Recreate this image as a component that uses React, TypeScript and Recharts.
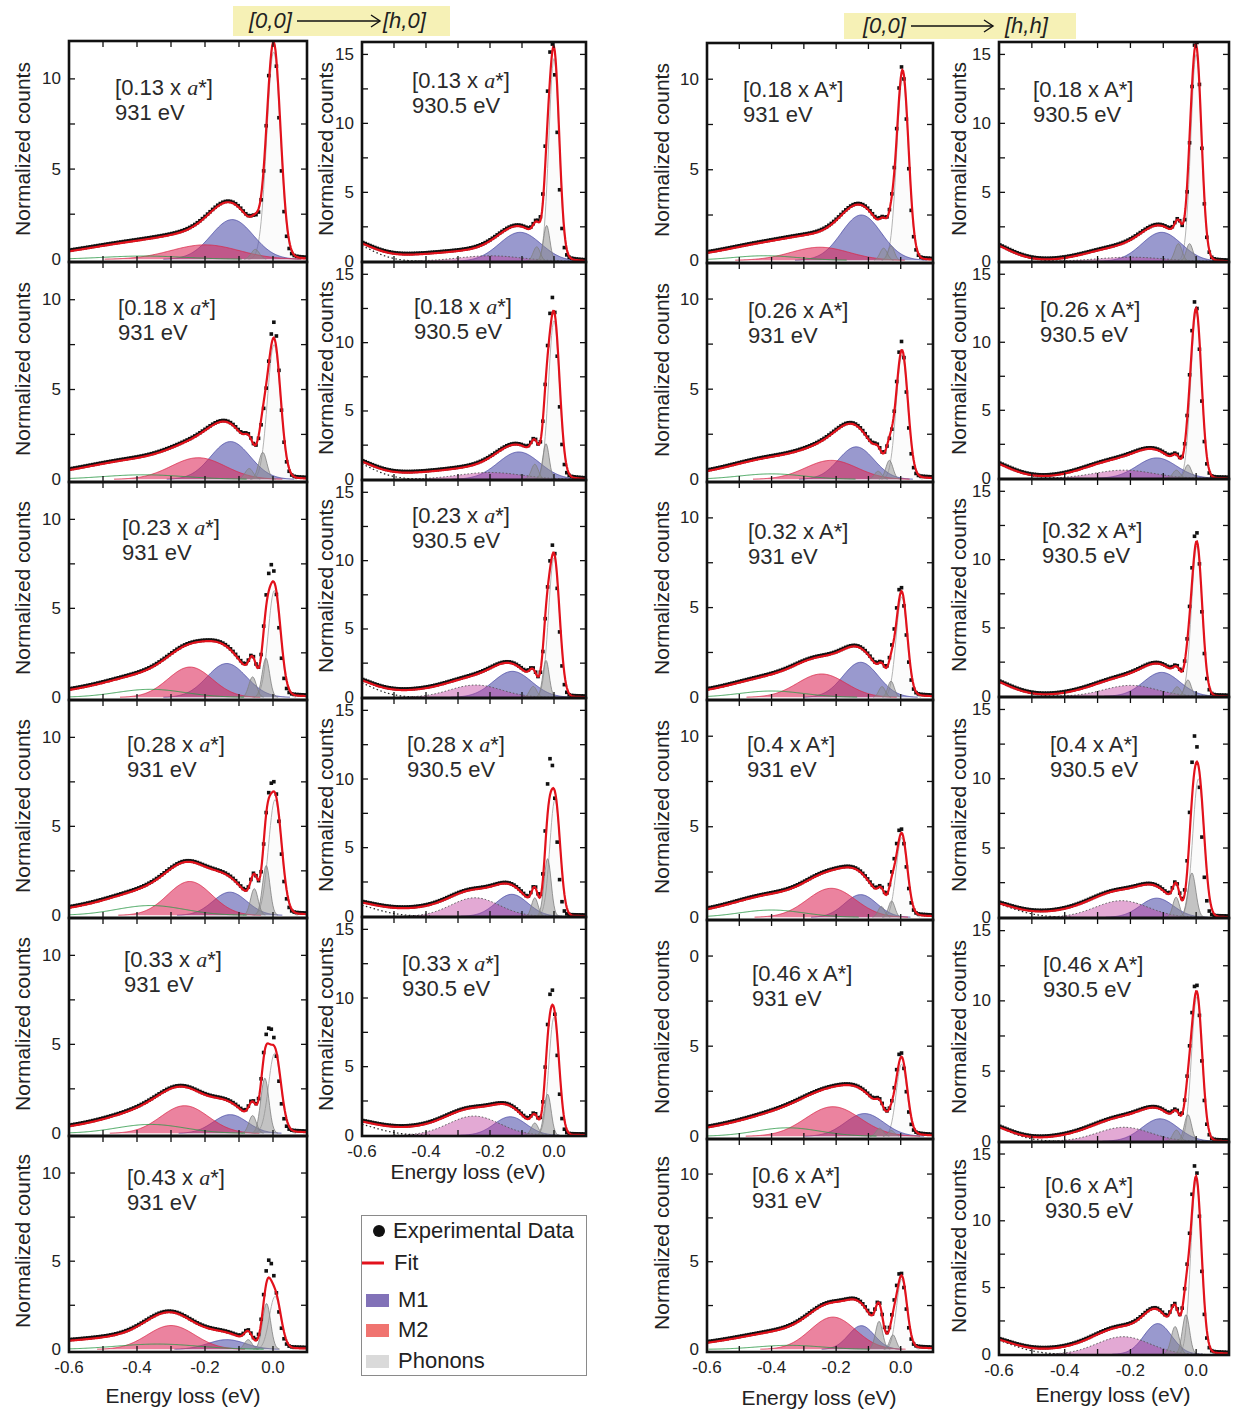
import { Area, ComposedChart, Line, XAxis, YAxis } from 'recharts';

type Peak = [number, number, number] | null; // [centre eV, height, sigma eV]

// panel order: [h,0] 931 eV (6 rows), [h,0] 930.5 eV (5), [h,h] 931 eV (6), [h,h] 930.5 eV (6)
const momenta = [
  '0.13', '0.18', '0.23', '0.28', '0.33', '0.43',
  '0.13', '0.18', '0.23', '0.28', '0.33',
  '0.18', '0.26', '0.32', '0.4', '0.46', '0.6',
  '0.18', '0.26', '0.32', '0.4', '0.46', '0.6',
];
const panelCol = [0, 0, 0, 0, 0, 0, 1, 1, 1, 1, 1, 2, 2, 2, 2, 2, 2, 3, 3, 3, 3, 3, 3];
const panelRow = [0, 1, 2, 3, 4, 5, 0, 1, 2, 3, 4, 0, 1, 2, 3, 4, 5, 0, 1, 2, 3, 4, 5];
const photonEnergy = ['931 eV', '930.5 eV', '931 eV', '930.5 eV'];

// fitted components
const elastic: Peak[] = [
  [0.002, 11.5, 0.02], [0.003, 7.5, 0.019], [0.004, 6.0, 0.018], [0.006, 6.5, 0.019], [0.005, 4.5, 0.018], [0.006, 3.0, 0.017],
  [0, 14.7, 0.016], [0, 11.6, 0.017], [0, 10.2, 0.017], [0.003, 8.5, 0.016], [0, 8.6, 0.016],
  [0.006, 10.1, 0.018], [0.004, 6.9, 0.018], [0.003, 5.6, 0.017], [0.003, 4.4, 0.017], [0.003, 4.0, 0.017], [0.003, 4.0, 0.016],
  [0, 15.0, 0.016], [0, 12.2, 0.016], [0.002, 11.0, 0.016], [0.007, 10.0, 0.017], [0.002, 10.3, 0.016], [0, 13.0, 0.016],
];
const measuredPeak: Peak[] = [
  [0, 11.9, 0.018], [0.003, 8.3, 0.017], [0, 6.6, 0.016], [0.004, 6.9, 0.017], [0, 4.9, 0.016], [0, 3.5, 0.016],
  [-0.005, 14.4, 0.015], [-0.003, 12.3, 0.015], [-0.002, 10.6, 0.015], [-0.005, 9.1, 0.014], [-0.004, 9.2, 0.014],
  [0.004, 10.2, 0.017], [0.002, 7.3, 0.016], [0, 5.8, 0.016], [0, 4.6, 0.016], [0, 4.2, 0.015], [0, 4.1, 0.015],
  [0, 15.4, 0.015], [-0.002, 12.7, 0.015], [0, 11.7, 0.015], [0, 10.8, 0.015], [0, 10.8, 0.015], [-0.002, 13.8, 0.015],
];
const phononA: Peak[] = [
  [-0.052, 0.55, 0.012], [-0.03, 1.5, 0.012], [-0.021, 2.2, 0.011], [-0.02, 2.8, 0.011], [-0.024, 3.1, 0.012], [-0.019, 2.6, 0.012],
  [-0.023, 2.6, 0.01], [-0.025, 2.6, 0.01], [-0.025, 2.7, 0.01], [-0.02, 4.2, 0.011], [-0.02, 3.0, 0.011],
  [-0.03, 0.8, 0.01], [-0.035, 1.05, 0.011], [-0.03, 0.9, 0.01], [-0.028, 0.9, 0.01], [-0.029, 0.32, 0.01], [-0.024, 0.83, 0.01],
  [-0.02, 1.28, 0.01], [-0.025, 1.0, 0.01], [-0.025, 1.2, 0.01], [-0.013, 3.2, 0.012], [-0.025, 1.9, 0.011], [-0.031, 2.97, 0.011],
];
const phononB: Peak[] = [
  null, [-0.07, 0.6, 0.012], [-0.06, 1.15, 0.011], [-0.055, 1.5, 0.011], [-0.06, 1.0, 0.011], [-0.073, 0.55, 0.011],
  [-0.054, 1.05, 0.011], [-0.06, 1.1, 0.011], [-0.065, 0.8, 0.011], [-0.06, 1.35, 0.01], [-0.06, 0.9, 0.011],
  [-0.053, 0.67, 0.011], [-0.07, 0.45, 0.011], [-0.058, 0.6, 0.01], [-0.06, 0.6, 0.01], [-0.065, 0.45, 0.011], [-0.067, 1.6, 0.011],
  [-0.054, 1.28, 0.011], [-0.06, 0.6, 0.011], [-0.058, 0.7, 0.011], [-0.061, 1.45, 0.01], [-0.06, 0.8, 0.011], [-0.064, 2.08, 0.012],
];
const m1: Peak[] = [
  [-0.12, 2.2, 0.062], [-0.125, 2.1, 0.058], [-0.136, 1.9, 0.058], [-0.127, 1.3, 0.05], [-0.126, 1.05, 0.05], [-0.136, 0.55, 0.055],
  [-0.106, 2.1, 0.065], [-0.11, 2.0, 0.065], [-0.13, 1.9, 0.06], [-0.132, 1.6, 0.05], [-0.137, 1.35, 0.05],
  [-0.122, 2.5, 0.062], [-0.138, 1.8, 0.055], [-0.124, 1.95, 0.055], [-0.124, 1.25, 0.05], [-0.112, 1.26, 0.06], [-0.122, 1.35, 0.04],
  [-0.105, 2.1, 0.06], [-0.12, 1.5, 0.06], [-0.105, 1.75, 0.055], [-0.12, 1.38, 0.05], [-0.11, 1.6, 0.055], [-0.117, 2.3, 0.042],
];
const m2: Peak[] = [
  [-0.2, 0.8, 0.1], [-0.22, 1.2, 0.08], [-0.244, 1.7, 0.065], [-0.245, 1.9, 0.065], [-0.26, 1.55, 0.07], [-0.3, 1.35, 0.07],
  [-0.2, 0.4, 0.1], [-0.2, 0.5, 0.1], [-0.245, 0.9, 0.08], [-0.247, 1.35, 0.075], [-0.25, 1.4, 0.08],
  [-0.25, 0.72, 0.09], [-0.215, 1.05, 0.08], [-0.245, 1.3, 0.075], [-0.215, 1.6, 0.075], [-0.21, 1.64, 0.085], [-0.21, 1.84, 0.07],
  [-0.2, 0.3, 0.1], [-0.22, 0.6, 0.09], [-0.2, 0.8, 0.08], [-0.227, 1.2, 0.08], [-0.22, 1.0, 0.08], [-0.222, 1.32, 0.08],
];
const greenLine: Peak[] = [
  [-0.38, 0.18, 0.12], [-0.38, 0.25, 0.12], [-0.36, 0.45, 0.1], [-0.36, 0.55, 0.1], [-0.36, 0.5, 0.1], [-0.34, 0.3, 0.12],
  null, null, null, null, null,
  [-0.42, 0.25, 0.1], [-0.4, 0.3, 0.1], [-0.4, 0.35, 0.1], [-0.4, 0.4, 0.1], [-0.35, 0.47, 0.1], [-0.345, 0.23, 0.1],
  null, null, null, null, null, null,
];
const dottedTail: Peak[] = [
  null, null, null, null, null, null,
  [-0.66, 1.5, 0.08], [-0.66, 1.5, 0.08], [-0.66, 1.4, 0.08], [-0.66, 1.0, 0.09], [-0.66, 1.0, 0.09],
  null, null, null, null, null, null,
  [-0.66, 1.5, 0.08], [-0.66, 1.4, 0.08], [-0.66, 1.4, 0.08], [-0.66, 1.2, 0.09], [-0.66, 1.3, 0.08], [-0.66, 1.3, 0.09],
];
const continuum: Peak[] = [
  [-0.38, 0.75, 0.2], [-0.38, 0.85, 0.2], [-0.35, 0.85, 0.2], [-0.35, 0.85, 0.2], [-0.35, 0.8, 0.2], [-0.45, 0.55, 0.25],
  [-0.35, 0.5, 0.17], [-0.35, 0.5, 0.17], [-0.35, 0.55, 0.17], [-0.35, 0.6, 0.17], [-0.35, 0.6, 0.17],
  [-0.38, 0.65, 0.2], [-0.35, 0.9, 0.2], [-0.35, 0.8, 0.2], [-0.35, 0.85, 0.2], [-0.38, 0.85, 0.2], [-0.35, 0.8, 0.2],
  [-0.24, 0.7, 0.1], [-0.26, 0.7, 0.1], [-0.26, 0.6, 0.1], [-0.28, 0.7, 0.14], [-0.27, 0.65, 0.13], [-0.25, 0.7, 0.16],
];

const xTicks = [-0.6, -0.5, -0.4, -0.3, -0.2, -0.1, 0, 0.1];
const xTickText: Record<string, string> = { '-0.6': '-0.6', '-0.4': '-0.4', '-0.2': '-0.2', '0': '0.0' };
const yTicksSmall = [0, 2.5, 5, 7.5, 10];
const yTicksLarge = [0, 2.5, 5, 7.5, 10, 12.5, 15];

// layout
const colLeft = [69, 362, 707, 999];
const colRight = [307, 586, 933, 1229];
const rowEdges = [
  [41, 262, 482, 700, 918, 1136, 1352],
  [42, 262, 480, 698, 917, 1136],
  [43, 263, 482, 700, 920, 1139, 1352],
  [42, 262, 479, 697, 918, 1142, 1355],
];
const xDomain: [number, number] = [-0.6, 0.1];
const yDomain: [number, number][] = [[-0.15, 12.1], [-0.05, 15.9], [-0.15, 12.0], [-0.05, 15.9]];
const labelAt = [
  [115, 88], [118, 308], [122, 528], [127, 745], [124, 960], [127, 1178],
  [412, 81], [414, 307], [412, 516], [407, 745], [402, 964],
  [743, 90], [748, 311], [748, 532], [747, 745], [752, 974], [752, 1176],
  [1033, 90], [1040, 310], [1042, 531], [1050, 745], [1043, 965], [1045, 1186],
];
const yTitleX = [22.5, 326, 662, 959];
const xTitleAt = [[183, 1396], [468, 1172], [819, 1398], [1113, 1395]];

const FONT = "'Liberation Sans', Arial, sans-serif";
const energyGrid = Array.from({ length: 281 }, (_, k) => -0.6 + k * 0.0025);

const g = (p: Peak, x: number) => (p ? p[1] * Math.exp(-((x - p[0]) ** 2) / (2 * p[2] * p[2])) : 0);
const cut = (v: number) => (v > 0.01 ? v : null);

function fitAt(i: number, x: number) {
  return (
    g(elastic[i], x) + g(phononA[i], x) + g(phononB[i], x) + g(m1[i], x) + g(m2[i], x) +
    g(greenLine[i], x) + g(dottedTail[i], x) + g(continuum[i], x)
  );
}

const blank = () => <g />;

// frame and inward ticks drawn over each plot box
function Frame({ left, top, w, h, yd, yTicks }: { left: number; top: number; w: number; h: number; yd: [number, number]; yTicks: number[] }) {
  const px = (v: number) => ((v - xDomain[0]) / (xDomain[1] - xDomain[0])) * w;
  const py = (v: number) => h - ((v - yd[0]) / (yd[1] - yd[0])) * h;
  const xs = xTicks.filter((v) => v > xDomain[0] + 0.01 && v < xDomain[1] - 0.01);
  const ys = yTicks.filter((v) => v > yd[0] + 0.2 && v < yd[1] - 0.2);
  const pad = 3;
  return (
    <svg style={{ position: 'absolute', left: left - pad, top: top - pad, pointerEvents: 'none' }} width={w + 2 * pad} height={h + 2 * pad}>
      <g transform={`translate(${pad},${pad})`} stroke='#111'>
        {xs.map((v) => (
          <g key={`x${v}`} strokeWidth={1.3}>
            <line x1={px(v)} x2={px(v)} y1={0} y2={6} />
            <line x1={px(v)} x2={px(v)} y1={h} y2={h - 6} />
          </g>
        ))}
        {ys.map((v) => (
          <g key={`y${v}`} strokeWidth={1.3}>
            <line x1={0} x2={6} y1={py(v)} y2={py(v)} />
            <line x1={w} x2={w - 6} y1={py(v)} y2={py(v)} />
          </g>
        ))}
        <rect x={0} y={0} width={w} height={h} fill='none' strokeWidth={2.6} />
      </g>
    </svg>
  );
}

function Panel({ i }: { i: number }) {
  const col = panelCol[i];
  const row = panelRow[i];
  const edges = rowEdges[col];
  const top = edges[row];
  const bottom = edges[row + 1];
  const isLast = row === edges.length - 2;
  const left = colLeft[col];
  const plotW = colRight[col] - left;
  const plotH = bottom - top;
  const axisW = 60;
  const axisH = isLast ? 40 : 12;
  const low = col === 0 || col === 2;
  const yTicks = low ? yTicksSmall : yTicksLarge;
  const yText: Record<number, string> = i === 15 ? { 0: '0', 5: '5', 10: '0' } : { 0: '0', 5: '5', 10: '10', 15: '15' };

  const rows = energyGrid.map((x, k) => ({
    x,
    el: cut(g(elastic[i], x)),
    pa: cut(g(phononA[i], x)),
    pb: cut(g(phononB[i], x)),
    m1: cut(g(m1[i], x)),
    m2: cut(g(m2[i], x)),
    gr: greenLine[i] ? cut(g(greenLine[i], x)) : null,
    tail: dottedTail[i] ? cut(g(dottedTail[i], x)) : null,
    fit: fitAt(i, x),
    exp:
      k % 3 === 1 && x < 0.095
        ? Math.min(fitAt(i, x) - g(elastic[i], x) + g(measuredPeak[i], x), yDomain[col][1])
        : null,
  }));

  const yTick = (p: any) => {
    const t = yText[p.payload.value];
    if (t === undefined) return <g />;
    return (
      <text x={p.x} y={p.y} textAnchor='end' dominantBaseline='central' fontSize={17} fill='#222' fontFamily={FONT}>
        {t}
      </text>
    );
  };
  const xTick = (p: any) => {
    const t = xTickText[String(Math.round(p.payload.value * 10) / 10)];
    if (!isLast || t === undefined) return <g />;
    return (
      <text x={p.x} y={p.y} textAnchor='middle' dominantBaseline='central' fontSize={17} fill='#222' fontFamily={FONT}>
        {t}
      </text>
    );
  };
  const square = (p: any) =>
    p.value == null || p.cy == null ? (
      <g key={`d${p.index}`} />
    ) : (
      <rect key={`d${p.index}`} x={p.cx - 1.8} y={p.cy - 2.9} width={3.6} height={3.6} fill='#111' />
    );

  const box = { width: plotW + axisW + 3, height: plotH + 2 + axisH, data: rows, margin: { top: 2, right: 3, bottom: 0, left: 0 } };
  const axes = (labels: boolean) => [
    <XAxis
      key='xa'
      dataKey='x'
      type='number'
      domain={xDomain}
      ticks={xTicks}
      interval={0}
      allowDataOverflow
      height={axisH}
      tickSize={0}
      tickMargin={15}
      axisLine={false}
      tickLine={false}
      tick={labels ? xTick : blank}
    />,
    <YAxis
      key='ya'
      type='number'
      domain={yDomain[col]}
      ticks={yTicks}
      interval={0}
      allowDataOverflow
      width={axisW}
      tickSize={0}
      tickMargin={8}
      axisLine={false}
      tickLine={false}
      tick={labels ? yTick : blank}
    />,
  ];
  const place = { position: 'absolute' as const, left: left - axisW, top: top - 2 };

  return (
    <>
      <div style={place}>
        <ComposedChart {...box}>
          {axes(true)}
          <Area dataKey='el' baseValue={0} stroke='#b4b4b4' strokeWidth={1} fill='#f2f2f2' fillOpacity={0.3} isAnimationActive={false} />
          <Area dataKey='m1' baseValue={0} stroke='#4c4ca4' strokeWidth={0.8} fill='#5a5ab0' fillOpacity={0.62} isAnimationActive={false} />
          <Area
            dataKey='m2'
            baseValue={0}
            stroke={low ? '#d82848' : '#555'}
            strokeDasharray={low ? undefined : '1.5 2'}
            strokeWidth={low ? 0.8 : 1}
            fill={low ? '#dc2a5a' : '#c040a0'}
            fillOpacity={low ? 0.58 : 0.45}
            isAnimationActive={false}
          />
          <Area dataKey='pa' baseValue={0} stroke='#808080' strokeWidth={0.8} fill='#8c8c8c' fillOpacity={0.5} isAnimationActive={false} />
          <Area dataKey='pb' baseValue={0} stroke='#808080' strokeWidth={0.8} fill='#8c8c8c' fillOpacity={0.5} isAnimationActive={false} />
          <Line dataKey='gr' stroke='#2f9a4a' strokeWidth={0.9} dot={false} isAnimationActive={false} />
          <Line dataKey='tail' stroke='#222' strokeWidth={1.2} strokeDasharray='1.5 2.5' dot={false} isAnimationActive={false} />
          <Line dataKey='exp' stroke='none' dot={square} activeDot={false} isAnimationActive={false} />
        </ComposedChart>
      </div>
      {/* the fit sits on top of the data points, so it gets its own layer with the same scales */}
      <div style={place}>
        <ComposedChart {...box}>
          {axes(false)}
          <Line dataKey='fit' stroke='#e2121c' strokeWidth={2.2} dot={false} isAnimationActive={false} />
        </ComposedChart>
      </div>
      <Frame left={left} top={top} w={plotW} h={plotH} yd={yDomain[col]} yTicks={yTicks} />
    </>
  );
}

function PanelText({ i }: { i: number }) {
  const col = panelCol[i];
  const [x, y] = labelAt[i];
  const alongA = col < 2;
  return (
    <div
      style={{
        position: 'absolute',
        left: x,
        top: y - 13,
        fontFamily: FONT,
        fontSize: 22,
        lineHeight: '25px',
        color: '#2a2a2a',
        whiteSpace: 'nowrap',
      }}
    >
      <div>
        [{momenta[i]} x{' '}
        {alongA ? <span style={{ fontFamily: "'Liberation Serif', serif", fontStyle: 'italic' }}>a</span> : 'A'}*]
      </div>
      <div>{photonEnergy[col]}</div>
    </div>
  );
}

function Header({ x, y, w, h, end, arrow }: { x: number; y: number; w: number; h: number; end: string; arrow: [number, number, number] }) {
  const text = { position: 'absolute' as const, top: 0, fontFamily: FONT, fontSize: 22, fontStyle: 'italic', lineHeight: `${h}px`, color: '#222' };
  return (
    <div style={{ position: 'absolute', left: x, top: y, width: w, height: h, background: '#f6f1b6' }}>
      <span style={{ ...text, left: arrow[0] - 48 }}>[0,0]</span>
      <svg style={{ position: 'absolute', left: 0, top: 0 }} width={w} height={h}>
        <line x1={arrow[0]} x2={arrow[1]} y1={h / 2} y2={h / 2} stroke='#111' strokeWidth={1.4} />
        <polyline points={`${arrow[1] - 9},${h / 2 - 6} ${arrow[1]},${h / 2} ${arrow[1] - 9},${h / 2 + 6}`} fill='none' stroke='#111' strokeWidth={1.4} />
      </svg>
      <span style={{ ...text, left: arrow[2] }}>{end}</span>
    </div>
  );
}

export default function App() {
  const panels = momenta.map((_, i) => i);
  const legendText = { position: 'absolute' as const, left: 32, fontSize: 22, lineHeight: '26px', color: '#222' };
  return (
    <div style={{ position: 'absolute', left: 0, top: 0, width: 1245, height: 1412, background: '#fff', fontFamily: FONT }}>
      {panels.map((i) => (
        <Panel key={`p${i}`} i={i} />
      ))}
      {panels.map((i) => (
        <PanelText key={`t${i}`} i={i} />
      ))}
      {panels.map((i) => {
        const col = panelCol[i];
        const e = rowEdges[col];
        const cy = (e[panelRow[i]] + e[panelRow[i] + 1]) / 2 - 3;
        return (
          <div
            key={`y${i}`}
            style={{
              position: 'absolute',
              left: yTitleX[col],
              top: cy,
              transform: 'translate(-50%, -50%) rotate(-90deg)',
              fontSize: 21,
              color: '#222',
              whiteSpace: 'nowrap',
            }}
          >
            Normalized counts
          </div>
        );
      })}
      {xTitleAt.map(([x, y], k) => (
        <div
          key={`x${k}`}
          style={{ position: 'absolute', left: x, top: y, transform: 'translate(-50%, -50%)', fontSize: 21, color: '#222', whiteSpace: 'nowrap' }}
        >
          Energy loss (eV)
        </div>
      ))}
      <Header x={233} y={6} w={217} h={30} end='[h,0]' arrow={[64, 147, 150]} />
      <Header x={844} y={13} w={232} h={26} end='[h,h]' arrow={[67, 149, 161]} />
      <div style={{ position: 'absolute', left: 361, top: 1215, width: 224, height: 159, border: '1.5px solid #8a8a8a' }}>
        <svg style={{ position: 'absolute', left: 0, top: 0 }} width={224} height={159}>
          <circle cx={17} cy={15} r={6} fill='#111' />
          <line x1={0} x2={22} y1={47} y2={47} stroke='#e2121c' strokeWidth={3} />
          <rect x={4} y={78} width={23} height={13} fill='#8272b8' />
          <rect x={4} y={108} width={23} height={13} fill='#f07470' />
          <rect x={4} y={139} width={23} height={13} fill='#dadada' />
        </svg>
        <div style={{ ...legendText, left: 31, top: 2 }}>Experimental Data</div>
        <div style={{ ...legendText, top: 34 }}>Fit</div>
        <div style={{ ...legendText, left: 36, top: 71 }}>M1</div>
        <div style={{ ...legendText, left: 36, top: 101 }}>M2</div>
        <div style={{ ...legendText, left: 36, top: 132 }}>Phonons</div>
      </div>
    </div>
  );
}
